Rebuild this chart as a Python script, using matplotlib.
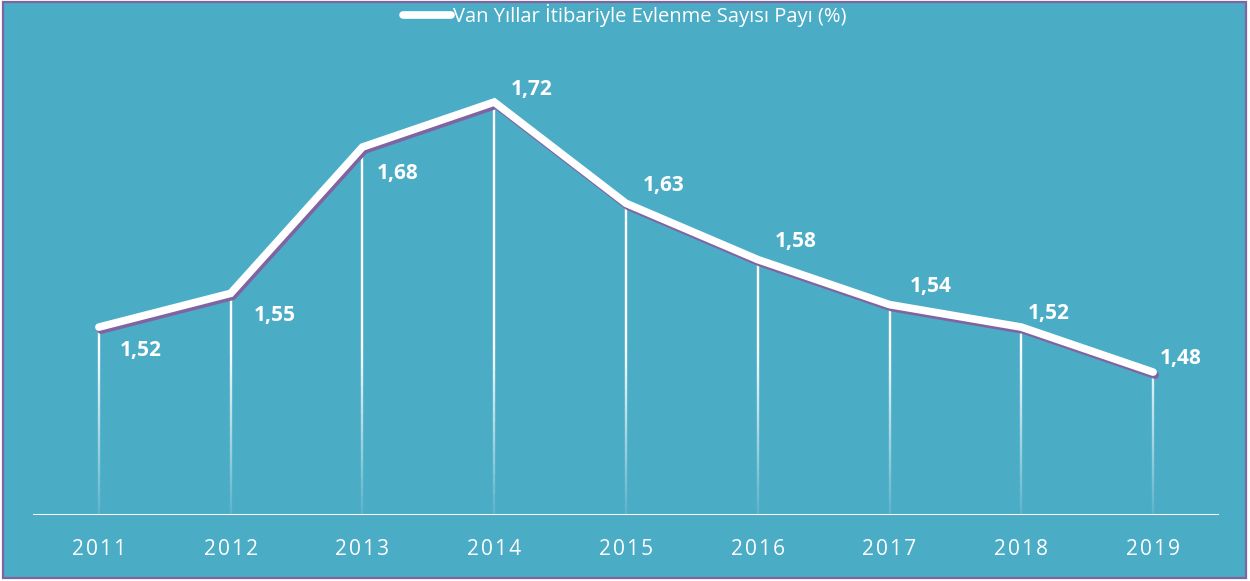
import matplotlib
matplotlib.use("Agg")
import matplotlib.pyplot as plt
import matplotlib.patheffects as pe
from matplotlib.patches import Rectangle
import numpy as np

# Van - evlenme sayisi payi (%)
years = ["2011", "2012", "2013", "2014", "2015", "2016", "2017", "2018", "2019"]
values = [1.52, 1.55, 1.68, 1.72, 1.63, 1.58, 1.54, 1.52, 1.48]
labels = ["1,52", "1,55", "1,68", "1,72", "1,63", "1,58", "1,54", "1,52", "1,48"]
# label offsets in points (dx, dy)
lbl_off = [(30, -17), (32, -16), (25, -19), (27, 9), (27, 13), (27, 13), (30, 13), (20, 10), (20, 10)]

bg = "#4BACC6"
purple = "#8064A2"
ymin, ymax = 1.353, 1.7707

fig = plt.figure(figsize=(12.5, 5.81), dpi=100)
fig.patch.set_facecolor("white")
fig.patches.append(Rectangle((3 / 1250, 3 / 581), 1243 / 1250, 576 / 581, transform=fig.transFigure,
                             facecolor=bg, edgecolor=purple, linewidth=1.6, zorder=-10))

ax = fig.add_axes([33 / 1250, 66 / 581, 1186 / 1250, 470 / 581])
ax.set_facecolor("none")
x = np.arange(len(years))

# drop lines fading out towards the axis
nseg = 40
for xi, v in zip(x, values):
    edges = np.linspace(ymin, v, nseg + 1)
    for k in range(nseg):
        frac = (edges[k] - ymin) / (1.55 - ymin)
        a = float(np.clip(0.1 + frac * 1.2, 0.1, 1.0))
        ax.plot([xi, xi], [edges[k], edges[k + 1]], color="white", lw=1.7, alpha=a,
                solid_capstyle="butt", zorder=2)

ax.plot(x, values, color="white", lw=5.5, solid_capstyle="round", solid_joinstyle="miter", zorder=4,
        label="Van Yıllar İtibariyle Evlenme Sayısı Payı (%)",
        path_effects=[pe.SimpleLineShadow(offset=(1.5, -2.2), shadow_color=purple, alpha=1.0), pe.Normal()])

for xi, v, t, (dx, dy) in zip(x, values, labels, lbl_off):
    ax.annotate(t, (xi, v), xytext=(dx, dy), textcoords="offset points", ha="center", va="center",
                color="white", fontsize=15, fontweight="bold", family="Open Sans", zorder=5)

ax.axhline(ymin, color="white", lw=2.2, zorder=3)
ax.set_xlim(-0.5, len(years) - 0.5)
ax.set_ylim(ymin, ymax)
ax.set_xticks(x)
ax.set_xticklabels(["\u200a".join(y) for y in years], color="white", fontsize=15,
                   family=["Open Sans", "DejaVu Sans"])
ax.tick_params(axis="x", length=0, pad=17)
ax.set_yticks([])
for s in ax.spines.values():
    s.set_visible(False)

leg = fig.legend(loc="upper center", bbox_to_anchor=(0.5, 1.025), frameon=False, handlelength=2.4,
                 handletextpad=0.1, prop={"family": "Open Sans", "size": 14.5})
for txt in leg.get_texts():
    txt.set_color("white")
for h in leg.legend_handles:
    h.set_path_effects([])

plt.savefig("out.png", dpi=100, facecolor=fig.get_facecolor())
plt.close(fig)
